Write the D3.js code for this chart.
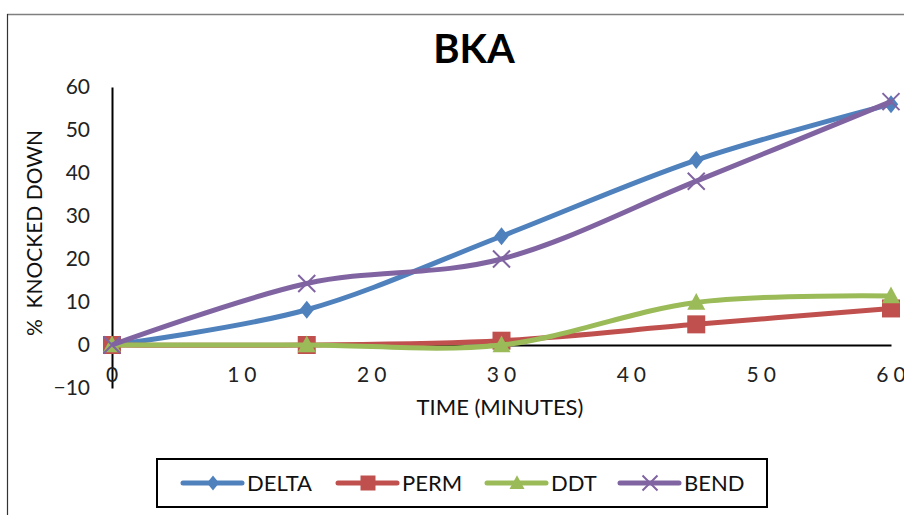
<!DOCTYPE html>
<html>
<head>
<meta charset="utf-8">
<script src="https://cdn.jsdelivr.net/npm/d3@7"></script>
<style>
  html, body { margin: 0; padding: 0; background: #fff; }
  svg { display: block; font-family: Lato, "Open Sans", sans-serif; }
</style>
</head>
<body>
<svg id="chart" width="904" height="515"></svg>
<script>
// Knock-down percentages over time for each insecticide
const times = [0, 15, 30, 45, 60];
const delta = [0, 8.2, 25.3, 43, 56];
const perm  = [0, 0, 1, 4.8, 8.5];
const ddt   = [0, 0, 0, 9.9, 11.4];
const bend  = [0, 14.3, 20, 38.1, 56.6];
const seriesNames = ["DELTA", "PERM", "DDT", "BEND"];
const seriesColors = ["#4F81BD", "#C0504D", "#9BBB59", "#8064A2"];
const yTicks = [-10, 0, 10, 20, 30, 40, 50, 60];
const xTicks = [0, 10, 20, 30, 40, 50, 60];

const seriesValues = [delta, perm, ddt, bend];
const svg = d3.select("#chart");

// Chart frame
svg.append("line").attr("x1", 7).attr("x2", 904).attr("y1", 14.5).attr("y2", 14.5)
  .attr("stroke", "#7f7f7f").attr("stroke-width", 1.5);
svg.append("line").attr("x1", 7.5).attr("x2", 7.5).attr("y1", 14).attr("y2", 515)
  .attr("stroke", "#333").attr("stroke-width", 1.2);

const x = d3.scaleLinear().domain([0, 60]).range([112, 891]);
const y = d3.scaleLinear().domain([-10, 60]).range([388, 87]);

// Title
svg.append("text").attr("x", 474).attr("y", 63).attr("text-anchor", "middle")
  .attr("font-size", 40).attr("font-weight", "bold").attr("fill", "#000").text("BKA");

// Y axis
const yAxis = d3.axisLeft(y).tickValues(yTicks).tickSize(0).tickPadding(22);
const gy = svg.append("g").attr("transform", `translate(${x(0)},0)`).call(yAxis);
gy.select(".domain").attr("stroke", "#000").attr("stroke-width", 2);
gy.selectAll("text").attr("font-size", 21).attr("fill", "#222")
  .attr("font-family", "Lato, sans-serif");

// X axis sits on y = 0
const xAxis = d3.axisBottom(x).tickValues(xTicks).tickSize(0).tickPadding(22)
  .tickFormat(d => d);
const gx = svg.append("g").attr("transform", `translate(0,${y(0)})`).call(xAxis);
gx.select(".domain").attr("stroke", "#000").attr("stroke-width", 2);
gx.selectAll("text").attr("font-size", 21).attr("fill", "#222")
  .attr("letter-spacing", "5px").attr("font-family", "Lato, sans-serif")
  .attr("dx", "2px");

// Axis titles
svg.append("text").attr("x", 500).attr("y", 415).attr("text-anchor", "middle")
  .attr("font-size", 22).attr("fill", "#111").text("TIME (MINUTES)");
svg.append("text").attr("transform", "translate(42,233) rotate(-90)")
  .attr("text-anchor", "middle").attr("font-size", 21).attr("fill", "#111")
  .style("white-space", "pre")
  .text("%  KNOCKED DOWN");

// Marker shapes
function marker(g, kind, color, size) {
  if (kind === 0) {
    g.append("path").attr("d", `M0,${-size}L${size * 0.8},0L0,${size}L${-size * 0.8},0Z`).attr("fill", color);
  } else if (kind === 1) {
    g.append("rect").attr("x", -size).attr("y", -size).attr("width", size * 2).attr("height", size * 2).attr("fill", color);
  } else if (kind === 2) {
    g.append("path").attr("d", `M0,${-size * 1.05}L${size},${size * 0.8}L${-size},${size * 0.8}Z`).attr("fill", color);
  } else {
    g.append("path").attr("d", `M${-size},${-size}L${size},${size}M${-size},${size}L${size},${-size}`)
      .attr("stroke", color).attr("stroke-width", 2).attr("fill", "none");
  }
}

const line = d3.line().x(d => x(d[0])).y(d => y(d[1])).curve(d3.curveCardinal.tension(0));
const markerSizes = [9, 9, 9, 8.5];

seriesValues.forEach((vals, i) => {
  const pts = times.map((t, j) => [t, vals[j]]);
  svg.append("path").datum(pts).attr("d", line).attr("fill", "none")
    .attr("stroke", seriesColors[i]).attr("stroke-width", 5).attr("stroke-linejoin", "round");
  pts.forEach(p => {
    const g = svg.append("g").attr("transform", `translate(${x(p[0])},${y(p[1])})`);
    marker(g, i, seriesColors[i], markerSizes[i]);
  });
});

// Legend
svg.append("rect").attr("x", 157).attr("y", 459).attr("width", 610).attr("height", 48)
  .attr("fill", "none").attr("stroke", "#000").attr("stroke-width", 2);
const legendX = [183, 338, 487, 620];
seriesNames.forEach((name, i) => {
  const lx = legendX[i], ly = 483;
  svg.append("line").attr("x1", lx).attr("x2", lx + 59).attr("y1", ly).attr("y2", ly)
    .attr("stroke", seriesColors[i]).attr("stroke-width", 5).attr("stroke-linecap", "round");
  const g = svg.append("g").attr("transform", `translate(${lx + 30},${ly})`);
  marker(g, i, seriesColors[i], 7.5);
  svg.append("text").attr("x", lx + 64).attr("y", ly + 8).attr("font-size", 22)
    .attr("fill", "#111").text(name);
});
</script>
</body>
</html>
